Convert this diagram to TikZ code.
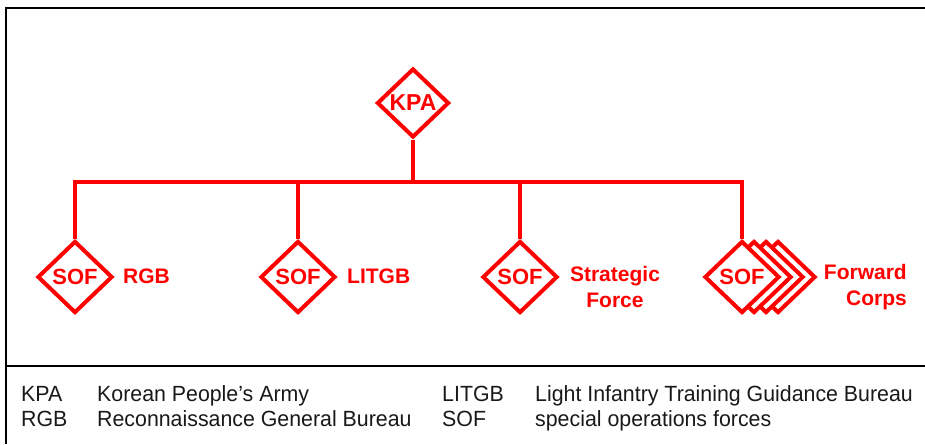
\documentclass[tikz,border=0pt]{standalone}
\usepackage{fontspec}
\setmainfont{Liberation Sans}
\newfontfamily\legfont[FakeStretch=0.97]{Liberation Sans}
\usetikzlibrary{shapes.geometric}
\definecolor{orgred}{RGB}{255,0,0}
\begin{document}
\begin{tikzpicture}[x=1pt,y=-1pt,
  unitbox/.style={diamond, draw=orgred, line width=4pt, fill=white, inner sep=0pt,
    minimum width=75pt, minimum height=72pt, text=orgred,
    font=\fontsize{22}{26}\selectfont\bfseries},
  topbox/.style={unitbox, minimum width=72pt, minimum height=69pt,
    font=\fontsize{23}{27}\selectfont\bfseries},
  conn/.style={draw=orgred, line width=4pt},
  lab/.style={inner sep=0pt, text=orgred, font=\fontsize{21}{26}\selectfont\bfseries},
  leg/.style={inner sep=0pt, anchor=base west, text=black!90, font=\legfont\fontsize{22}{25}\selectfont},
  frame/.style={draw=black, line width=2pt}]
\useasboundingbox (0,0) rectangle (925,444);
% frame
\draw[frame, line width=2.5pt] (5,8) -- (925,8);
\draw[frame] (6,7) -- (6,444);
\draw[frame] (6,366) -- (925,366);
% boxes
\node[topbox] (kpa) at (413,103) {KPA};
\node[unitbox] (s1) at (75,277) {SOF};
\node[unitbox] (s2) at (298,277) {SOF};
\node[unitbox] (s3) at (520,277) {SOF};
\node[unitbox] (s4c) at (778,277) {};
\node[unitbox] (s4b) at (766,277) {};
\node[unitbox] (s4a) at (754,277) {};
\node[unitbox] (s4) at (742,277) {SOF};
% connectors
\coordinate (bus) at (0,182);
\draw[conn] (kpa.south) -- (kpa.south |- bus);
\draw[conn] (s1.north) |- (s4.north |- bus) -- (s4.north);
\draw[conn] (s2.north) -- (s2.north |- bus);
\draw[conn] (s3.north) -- (s3.north |- bus);
% labels
\node[lab, anchor=base west] (l1) at (123,283) {RGB};
\node[lab, anchor=base west] (l2) at (347,283) {LITGB};
\node[lab, align=center, anchor=center] (l3) at (615,287) {Strategic\\Force};
\node[lab, align=right, anchor=east] (l4) at (907,287) {Forward\\Corps};
% legend
\node[leg] (k1) at (21,401) {KPA};
\node[leg] (v1) at (97,401) {Korean People’s Army};
\node[leg] (k2) at (442,401) {LITGB};
\node[leg] (v2) at (535,401) {Light Infantry Training Guidance Bureau};
\node[leg] (k3) at (21,426) {RGB};
\node[leg] (v3) at (97,426) {Reconnaissance General Bureau};
\node[leg] (k4) at (442,426) {SOF};
\node[leg] (v4) at (535,426) {special operations forces};
\end{tikzpicture}
\end{document}
